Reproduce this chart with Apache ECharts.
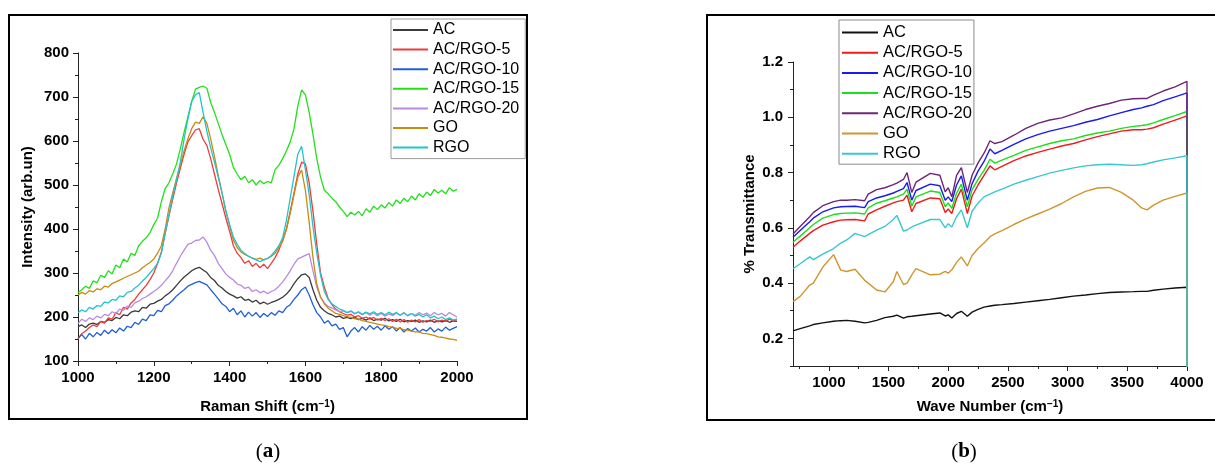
<!DOCTYPE html>
<html><head><meta charset="utf-8">
<script src="https://cdn.jsdelivr.net/npm/echarts@6/dist/echarts.min.js"></script>
<style>html,body{margin:0;padding:0;background:#fff}#c{width:1215px;height:466px}</style>
</head><body><div id="c"></div>
<script>
// ---------- Panel (a): Raman ----------
const SERIES_NAMES = ['AC', 'AC/RGO-5', 'AC/RGO-10', 'AC/RGO-15', 'AC/RGO-20', 'GO', 'RGO'];
const RAMAN_SHIFT = [1000,1010,1020,1030,1040,1050,1060,1070,1080,1090,1100,1110,1120,1130,1140,1150,1160,1170,1180,1190,1200,1210,1220,1230,1240,1250,1260,1270,1280,1290,1300,1310,1320,1330,1340,1350,1360,1370,1380,1390,1400,1410,1420,1430,1440,1450,1460,1470,1480,1490,1500,1510,1520,1530,1540,1550,1560,1570,1580,1590,1600,1610,1620,1630,1640,1650,1660,1670,1680,1690,1700,1710,1720,1730,1740,1750,1760,1770,1780,1790,1800,1810,1820,1830,1840,1850,1860,1870,1880,1890,1900,1910,1920,1930,1940,1950,1960,1970,1980,1990,2000];
const RAMAN_AC = [178,182,176,184,186,183,190,188,194,192,199,196,205,203,211,214,212,222,220,229,231,236,240,248,254,262,272,282,291,298,305,310,313,307,301,290,283,272,266,258,252,248,243,246,238,240,234,238,230,234,229,233,236,240,245,252,262,276,287,296,298,290,262,238,222,214,208,205,200,202,197,199,196,200,194,197,193,198,192,195,193,197,191,194,190,195,189,192,190,193,188,191,189,193,188,191,189,192,188,191,190];
const RAMAN_RGO5 = [150,162,168,176,182,178,190,186,198,195,210,205,222,218,232,240,252,262,272,285,300,322,348,390,430,468,505,538,570,598,612,625,628,604,590,560,525,490,458,425,395,362,345,335,322,328,315,322,312,320,310,322,335,352,375,400,440,482,525,552,548,505,440,365,300,268,242,228,218,212,208,204,206,200,203,197,200,195,199,193,197,192,196,190,195,189,194,188,193,189,194,188,192,190,195,189,193,190,195,191,194];
const RAMAN_RGO10 = [152,160,150,163,155,165,158,170,162,171,164,175,168,179,176,188,183,195,192,205,203,215,212,226,230,238,248,255,262,270,274,278,281,277,273,262,252,241,230,224,212,220,205,214,200,211,202,210,199,208,201,210,204,214,210,222,228,240,250,262,268,250,228,210,200,186,192,180,184,172,176,155,168,176,166,178,170,181,172,179,170,180,172,178,168,176,166,174,168,175,166,172,168,176,166,173,168,177,170,174,178];
const RAMAN_RGO15 = [255,262,270,265,282,278,295,290,305,298,318,312,332,325,345,340,362,372,380,392,410,425,462,492,505,525,548,582,620,655,690,718,722,725,720,688,665,640,615,592,570,540,525,512,520,505,512,500,510,503,508,505,535,545,560,578,598,628,680,716,705,665,615,560,518,488,480,470,462,450,440,428,438,432,440,430,446,438,452,444,455,448,460,452,466,458,470,462,475,466,480,472,484,476,490,482,488,480,494,486,490];
const RAMAN_RGO20 = [185,195,190,198,194,202,198,206,203,212,208,218,215,225,222,232,236,242,246,252,258,264,272,282,292,305,322,338,352,365,368,374,375,382,370,352,340,322,310,298,290,284,275,272,265,268,258,262,255,259,253,258,262,270,280,292,305,320,332,336,340,344,305,268,245,232,224,220,216,212,214,210,213,207,211,205,210,204,209,203,208,202,207,203,209,204,210,203,208,204,210,205,209,203,210,205,208,202,210,205,200];
const RAMAN_GO = [250,256,252,260,257,264,262,270,268,276,280,284,288,292,296,300,304,312,318,324,332,345,362,400,448,482,515,545,578,605,628,643,640,655,640,605,565,522,482,440,408,375,358,348,342,338,334,331,334,330,333,338,345,358,372,400,436,478,518,534,488,415,335,275,245,230,220,214,208,206,203,201,199,196,195,192,190,188,186,184,182,181,178,177,174,174,171,170,168,166,166,163,162,160,158,155,154,152,150,149,147];
const RAMAN_RGO = [210,216,212,222,218,226,224,234,232,240,238,248,246,256,258,266,272,282,290,300,310,322,345,390,432,475,512,552,605,650,690,705,710,665,622,585,552,518,482,442,410,382,365,352,344,338,334,330,326,330,333,340,350,362,380,420,470,520,570,588,535,478,405,345,295,258,240,230,224,218,215,210,214,208,212,206,211,207,212,206,210,205,211,206,210,204,209,203,208,202,206,200,205,198,202,196,200,194,198,193,196];
const RAMAN_X_TICKS = [1000, 1200, 1400, 1600, 1800, 2000];
const RAMAN_Y_TICKS = [100, 200, 300, 400, 500, 600, 700, 800];

// ---------- Panel (b): FTIR ----------
const WAVE_NUMBER = [700,760,840,870,950,1040,1100,1150,1220,1300,1330,1400,1470,1540,1570,1625,1655,1695,1730,1850,1930,1975,2000,2030,2070,2110,2160,2200,2250,2300,2350,2390,2450,2550,2650,2750,2850,2950,3050,3150,3250,3350,3450,3550,3620,3665,3720,3800,3900,4000,4000];
const FTIR_AC = [0.227,0.235,0.245,0.250,0.256,0.262,0.264,0.265,0.262,0.256,0.258,0.265,0.275,0.280,0.284,0.273,0.278,0.280,0.282,0.288,0.292,0.281,0.285,0.274,0.290,0.298,0.280,0.295,0.305,0.313,0.317,0.320,0.322,0.326,0.331,0.336,0.341,0.347,0.353,0.357,0.362,0.366,0.368,0.369,0.370,0.370,0.374,0.378,0.382,0.385,0];
const FTIR_RGO5 = [0.530,0.552,0.580,0.590,0.610,0.622,0.628,0.629,0.630,0.625,0.650,0.665,0.678,0.690,0.695,0.700,0.718,0.658,0.688,0.708,0.705,0.655,0.668,0.652,0.705,0.740,0.652,0.715,0.755,0.790,0.824,0.810,0.822,0.843,0.860,0.873,0.885,0.896,0.905,0.918,0.930,0.940,0.950,0.955,0.955,0.957,0.962,0.975,0.990,1.005,0];
const FTIR_RGO10 = [0.566,0.590,0.622,0.635,0.658,0.672,0.676,0.677,0.678,0.673,0.695,0.708,0.716,0.726,0.732,0.742,0.764,0.700,0.735,0.758,0.752,0.700,0.712,0.695,0.755,0.788,0.700,0.760,0.805,0.840,0.885,0.868,0.880,0.902,0.922,0.937,0.950,0.960,0.970,0.982,0.992,1.005,1.017,1.028,1.034,1.040,1.046,1.060,1.074,1.088,0];
const FTIR_RGO15 = [0.548,0.570,0.600,0.612,0.635,0.648,0.652,0.653,0.654,0.650,0.672,0.689,0.698,0.708,0.712,0.722,0.740,0.678,0.712,0.733,0.728,0.676,0.690,0.670,0.725,0.758,0.676,0.738,0.775,0.808,0.848,0.834,0.845,0.862,0.880,0.893,0.905,0.915,0.922,0.934,0.943,0.950,0.960,0.967,0.970,0.973,0.980,0.992,1.006,1.021,0];
const FTIR_RGO20 = [0.578,0.605,0.640,0.655,0.680,0.695,0.700,0.700,0.702,0.698,0.722,0.738,0.745,0.756,0.762,0.775,0.800,0.728,0.765,0.797,0.790,0.730,0.745,0.712,0.790,0.818,0.728,0.790,0.835,0.870,0.915,0.905,0.912,0.935,0.960,0.978,0.990,0.998,1.012,1.028,1.040,1.050,1.062,1.067,1.068,1.068,1.080,1.095,1.110,1.130,0];
const FTIR_GO = [0.333,0.352,0.393,0.400,0.458,0.503,0.447,0.442,0.450,0.410,0.400,0.375,0.368,0.405,0.442,0.395,0.400,0.430,0.452,0.430,0.432,0.442,0.436,0.448,0.475,0.495,0.462,0.500,0.525,0.545,0.568,0.578,0.590,0.612,0.632,0.650,0.668,0.688,0.712,0.732,0.744,0.746,0.728,0.700,0.672,0.665,0.682,0.700,0.714,0.726,0];
const FTIR_RGO = [0.452,0.470,0.495,0.485,0.505,0.525,0.545,0.556,0.580,0.568,0.575,0.592,0.605,0.630,0.645,0.588,0.592,0.603,0.610,0.630,0.630,0.600,0.615,0.603,0.640,0.665,0.600,0.660,0.690,0.712,0.722,0.730,0.740,0.758,0.772,0.785,0.798,0.808,0.817,0.824,0.828,0.830,0.828,0.826,0.828,0.832,0.838,0.846,0.853,0.861,0];
const FTIR_X_TICKS = [1000, 1500, 2000, 2500, 3000, 3500, 4000];
const FTIR_X_MINOR = [750, 1250, 1750, 2250, 2750, 3250, 3750];
const FTIR_Y_TICKS = [0.2, 0.4, 0.6, 0.8, 1.0, 1.2];
const FTIR_Y_MINOR = [0.1, 0.3, 0.5, 0.7, 0.9, 1.1];

const COLORS_A = ['#3a3a3a', '#ee3b3b', '#1f5fd8', '#22e01a', '#b88ae2', '#c98a12', '#22c4cc'];
const COLORS_B = ['#111111', '#f01a1a', '#1a1af0', '#1ae01a', '#6e2478', '#cf9630', '#38c8d0'];

const FONT = '"Liberation Sans", Arial, sans-serif';
const LBL = {color: '#000', fontFamily: FONT, fontWeight: 'bold', fontSize: 15};
const NAME = {color: '#000', fontFamily: FONT, fontWeight: 'bold', fontSize: 15,
  rich: {s: {fontFamily: FONT, fontWeight: 'bold', fontSize: 10, verticalAlign: 'top', color: '#000'}}};
const AXLINE = {show: true, lineStyle: {color: '#222', width: 1}};
const TICK = {show: true, length: 5, lineStyle: {color: '#222', width: 1}};
const MINOR = {show: true, splitNumber: 2, length: 3, lineStyle: {color: '#222', width: 1}};
const plain = v => String(v);

const ramanData = [RAMAN_AC, RAMAN_RGO5, RAMAN_RGO10, RAMAN_RGO15, RAMAN_RGO20, RAMAN_GO, RAMAN_RGO];
const ftirData = [FTIR_AC, FTIR_RGO5, FTIR_RGO10, FTIR_RGO15, FTIR_RGO20, FTIR_GO, FTIR_RGO];

const series = [];
SERIES_NAMES.forEach((n, k) => {
  series.push({
    type: 'line', name: n, xAxisIndex: 0, yAxisIndex: 0,
    data: RAMAN_SHIFT.map((x, i) => [x, ramanData[k][i]]),
    showSymbol: false, symbol: 'none', clip: true,
    lineStyle: {color: COLORS_A[k], width: 1.3}, itemStyle: {color: COLORS_A[k]}
  });
});
SERIES_NAMES.forEach((n, k) => {
  series.push({
    type: 'line', name: 'b:' + n, xAxisIndex: 1, yAxisIndex: 1,
    data: WAVE_NUMBER.map((x, i) => [x, ftirData[k][i]]),
    showSymbol: false, symbol: 'none', clip: true,
    lineStyle: {color: COLORS_B[k], width: 1.4}, itemStyle: {color: COLORS_B[k]}
  });
});

const legendText = {fontFamily: FONT, color: '#000', lineHeight: 16};
const option = {
  animation: false,
  backgroundColor: '#fff',
  grid: [
    {left: 78, top: 53, width: 379, height: 308},
    {left: 793, top: 62, width: 394, height: 304}
  ],
  xAxis: [
    {gridIndex: 0, type: 'value', position: 'bottom', min: RAMAN_X_TICKS[0], max: RAMAN_X_TICKS[RAMAN_X_TICKS.length - 1], interval: 200,
     axisLine: AXLINE, axisTick: TICK, minorTick: MINOR, splitLine: {show: false},
     axisLabel: Object.assign({margin: 9, formatter: plain}, LBL),
     name: 'Raman Shift (cm{s|−1})', nameLocation: 'middle', nameGap: 38, nameTextStyle: NAME},
    {gridIndex: 1, type: 'value', position: 'bottom', min: 700, max: 4000,
     axisLine: AXLINE, axisTick: Object.assign({customValues: FTIR_X_TICKS}, TICK), splitLine: {show: false},
     axisLabel: Object.assign({margin: 9, customValues: FTIR_X_TICKS, formatter: plain}, LBL),
     name: 'Wave Number (cm{s|−1})', nameLocation: 'middle', nameGap: 33, nameTextStyle: NAME},
    {gridIndex: 1, type: 'value', position: 'bottom', min: 700, max: 4000,
     axisLine: {show: false}, axisTick: {show: true, length: 3, customValues: FTIR_X_MINOR, lineStyle: {color: '#222'}},
     axisLabel: {show: false}, splitLine: {show: false}}
  ],
  yAxis: [
    {gridIndex: 0, type: 'value', position: 'left', min: RAMAN_Y_TICKS[0], max: RAMAN_Y_TICKS[RAMAN_Y_TICKS.length - 1], interval: 100,
     axisLine: AXLINE, axisTick: TICK, minorTick: MINOR, splitLine: {show: false},
     axisLabel: Object.assign({margin: 9, formatter: plain}, LBL),
     name: 'Intensity (arb.un)', nameLocation: 'middle', nameGap: 43, nameTextStyle: NAME},
    {gridIndex: 1, type: 'value', position: 'left', min: 0.1, max: 1.2,
     axisLine: AXLINE, axisTick: Object.assign({customValues: FTIR_Y_TICKS}, TICK), splitLine: {show: false},
     axisLabel: Object.assign({margin: 10, customValues: FTIR_Y_TICKS, formatter: v => v.toFixed(1)}, LBL),
     name: '% Transmittance', nameLocation: 'middle', nameGap: 36, nameTextStyle: NAME},
    {gridIndex: 1, type: 'value', position: 'left', min: 0.1, max: 1.2,
     axisLine: {show: false}, axisTick: {show: true, length: 3, customValues: FTIR_Y_MINOR, lineStyle: {color: '#222'}},
     axisLabel: {show: false}, splitLine: {show: false}}
  ],
  legend: [
    {data: SERIES_NAMES, orient: 'vertical', left: 391, top: 19, padding: [3, 6, 3, 2], itemGap: 3.6,
     itemWidth: 35, itemHeight: 2, icon: 'rect', borderColor: '#9a9a9a', borderWidth: 1,
     selectedMode: false, textStyle: Object.assign({fontSize: 16}, legendText)},
    {data: SERIES_NAMES.map(n => 'b:' + n), formatter: n => n.slice(2), orient: 'vertical', left: 839, top: 20,
     padding: [4, 2, 2, 3], itemGap: 3.2, itemWidth: 36, itemHeight: 2, icon: 'rect',
     borderColor: '#8a8a8a', borderWidth: 1, selectedMode: false, textStyle: Object.assign({fontSize: 16.5}, legendText)}
  ],
  graphic: [
    {type: 'rect', silent: true, z: 100, shape: {x: 9, y: 15, width: 518, height: 404},
     style: {fill: 'none', stroke: '#000', lineWidth: 2}},
    {type: 'rect', silent: true, z: 100, shape: {x: 707, y: 15, width: 520, height: 405},
     style: {fill: 'none', stroke: '#000', lineWidth: 2}},
    {type: 'text', silent: true, x: 268, y: 452,
     style: {text: '{p|(}{b|a}{p|)}', align: 'center', verticalAlign: 'middle',
       rich: {p: {fontFamily: '"Liberation Serif", serif', fontSize: 21, fill: '#000', color: '#000'},
              b: {fontFamily: '"Liberation Serif", serif', fontSize: 21, fontWeight: 'bold', fill: '#000', color: '#000'}}}},
    {type: 'text', silent: true, x: 964, y: 452,
     style: {text: '{p|(}{b|b}{p|)}', align: 'center', verticalAlign: 'middle',
       rich: {p: {fontFamily: '"Liberation Serif", serif', fontSize: 21, fill: '#000', color: '#000'},
              b: {fontFamily: '"Liberation Serif", serif', fontSize: 21, fontWeight: 'bold', fill: '#000', color: '#000'}}}}
  ],
  series: series
};
const chart = echarts.init(document.getElementById('c'), null, {renderer: 'canvas'});
chart.setOption(option);
</script></body></html>
